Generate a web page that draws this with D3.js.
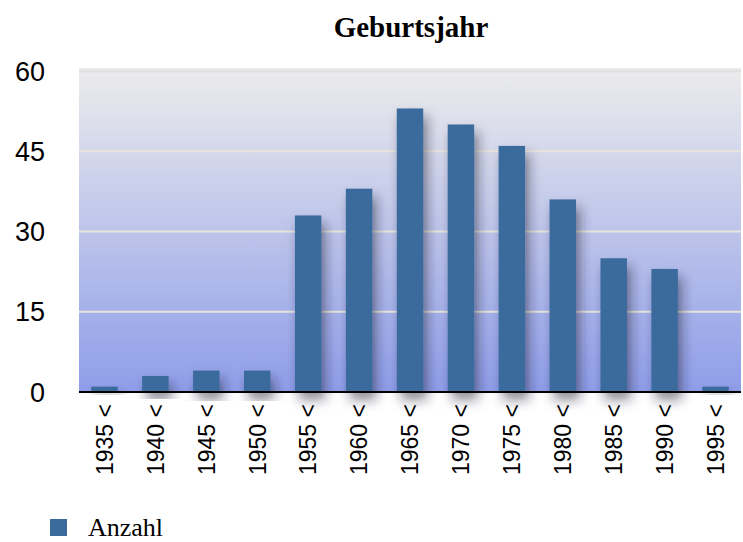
<!DOCTYPE html>
<html>
<head>
<meta charset="utf-8">
<script src="https://cdn.jsdelivr.net/npm/d3@7"></script>
<style>
  html, body { margin: 0; padding: 0; background: #fff; }
  svg { display: block; }
</style>
</head>
<body>
<svg id="chart" width="743" height="542"></svg>
<script>
document.addEventListener("DOMContentLoaded", () => {
  "use strict";

  const TITLE = "Geburtsjahr";
  const SERIES = "Anzahl";
  const YEARS = [1935, 1940, 1945, 1950, 1955, 1960, 1965, 1970, 1975, 1980, 1985, 1990, 1995];
  const LABELS = YEARS.map(y => `${y} <`);
  const COUNTS = [1, 3, 4, 4, 33, 38, 53, 50, 46, 36, 25, 23, 1];
  const Y_TICKS = [0, 15, 30, 45, 60];

  const data = LABELS.map((label, i) => ({ label, value: COUNTS[i] }));

  const svg = d3.select("#chart");
  const M = { top: 71, right: 2, bottom: 150, left: 79 };
  const W = +svg.attr("width");
  const H = +svg.attr("height");
  const iw = W - M.left - M.right;
  const ih = H - M.top - M.bottom; // 0 at y=392

  const defs = svg.append("defs");
  const grad = defs.append("linearGradient")
    .attr("id", "bg").attr("x1", 0).attr("y1", 0).attr("x2", 0).attr("y2", 1);
  grad.append("stop").attr("offset", "0%").attr("stop-color", "#ececec");
  grad.append("stop").attr("offset", "100%").attr("stop-color", "#8e9de9");

  const shadow = defs.append("filter").attr("id", "shadow")
    .attr("x", "-60%").attr("y", "-20%").attr("width", "220%").attr("height", "160%");
  shadow.append("feDropShadow")
    .attr("dx", 4).attr("dy", 8).attr("stdDeviation", 6)
    .attr("flood-color", "#202030").attr("flood-opacity", 0.5);

  const x = d3.scaleBand().domain(LABELS).range([0, iw])
    .paddingInner(0.48).paddingOuter(0.24);
  const y = d3.scaleLinear().domain([0, 60]).range([ih, 0]);

  const g = svg.append("g").attr("transform", `translate(${M.left},${M.top})`);

  // background panel
  g.append("rect")
    .attr("x", 0).attr("y", y(60) - 3)
    .attr("width", iw).attr("height", ih - y(60) + 3)
    .attr("fill", "url(#bg)");

  // grid lines
  g.selectAll("line.grid").data(Y_TICKS.filter(t => t > 0)).join("line")
    .attr("class", "grid")
    .attr("x1", 0).attr("x2", iw)
    .attr("y1", d => y(d)).attr("y2", d => y(d))
    .attr("stroke", d => d === 60 ? "#e2e2e2" : "#e8e6dc")
    .attr("stroke-width", d => d === 60 ? 3 : 2);

  // bars
  g.selectAll("rect.bar").data(data).join("rect")
    .attr("class", "bar")
    .attr("x", d => x(d.label))
    .attr("y", d => y(d.value))
    .attr("width", x.bandwidth())
    .attr("height", d => ih - y(d.value))
    .attr("fill", "#3b6a9c")
    .attr("filter", "url(#shadow)");

  // baseline
  g.append("line")
    .attr("x1", 0).attr("x2", iw)
    .attr("y1", ih).attr("y2", ih)
    .attr("stroke", "#000").attr("stroke-width", 2);

  // y tick labels
  g.selectAll("text.ytick").data(Y_TICKS).join("text")
    .attr("class", "ytick")
    .attr("x", -34)
    .attr("y", d => y(d))
    .attr("dy", "0.36em")
    .attr("text-anchor", "end")
    .style("font-family", "Liberation Sans, Arial, sans-serif")
    .style("font-size", "27px")
    .attr("fill", "#000")
    .text(d => d);

  // x tick labels (rotated)
  g.selectAll("text.xtick").data(LABELS).join("text")
    .attr("class", "xtick")
    .attr("transform", d => `translate(${x(d) + x.bandwidth() / 2},${ih + 12}) rotate(-90)`)
    .attr("dy", "0.36em")
    .attr("text-anchor", "end")
    .style("font-family", "Liberation Sans, Arial, sans-serif")
    .style("font-size", "23px")
    .attr("fill", "#000")
    .text(d => d);

  // title
  svg.append("text")
    .attr("x", 411).attr("y", 37)
    .attr("text-anchor", "middle")
    .style("font-family", "Liberation Serif, serif")
    .style("font-weight", "bold")
    .style("font-size", "29px")
    .text(TITLE);

  // legend
  const leg = svg.append("g").attr("transform", "translate(50,519)");
  leg.append("rect").attr("width", 17).attr("height", 17).attr("fill", "#3b6a9c");
  leg.append("text")
    .attr("x", 38).attr("y", 17)
    .style("font-family", "Liberation Serif, serif")
    .style("font-size", "26px")
    .text(SERIES);
});
</script>
</body>
</html>
